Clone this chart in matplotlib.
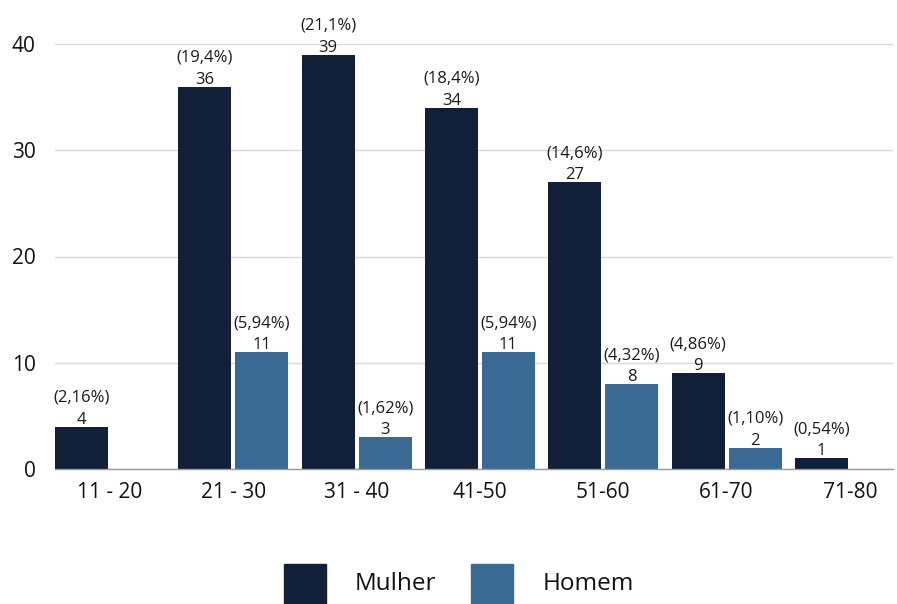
import matplotlib
matplotlib.use("Agg")
import matplotlib.pyplot as plt
from matplotlib.patches import Rectangle
import numpy as np

plt.rcParams['font.family'] = ['Open Sans', 'DejaVu Sans']

categories = ["11 - 20", "21 - 30", "31 - 40", "41-50", "51-60", "61-70", "71-80"]
mulher = [4, 36, 39, 34, 27, 9, 1]
homem = [0, 11, 3, 11, 8, 2, 0]
mulher_pct = ["(2,16%)", "(19,4%)", "(21,1%)", "(18,4%)", "(14,6%)", "(4,86%)", "(0,54%)"]
homem_pct = ["", "(5,94%)", "(1,62%)", "(5,94%)", "(4,32%)", "(1,10%)", ""]
yticks = [0, 10, 20, 30, 40]

c_m = "#121f38"
c_h = "#3a6a93"

W, H = 897, 604
fig = plt.figure(figsize=(W / 100, H / 100), dpi=100)
ax = fig.add_axes([55 / W, (H - 469) / H, 838 / W, (469 - 44) / H])

x = np.arange(len(categories))
bw = 0.43
off = 0.231
bm = ax.bar(x - off, mulher, bw, color=c_m, zorder=3)
bh = ax.bar(x + off, homem, bw, color=c_h, zorder=3)

for bars, vals, pcts in ((bm, mulher, mulher_pct), (bh, homem, homem_pct)):
    for b, v, p in zip(bars, vals, pcts):
        if v == 0:
            continue
        cx = b.get_x() + b.get_width() / 2
        ax.annotate(str(v), (cx, v), xytext=(0, 3), textcoords='offset pixels',
                    ha='center', va='baseline', fontsize=12, color='#1a1a1a',
                    annotation_clip=False, zorder=4)
        ax.annotate(p, (cx, v), xytext=(0, 25), textcoords='offset pixels',
                    ha='center', va='baseline', fontsize=12, color='#1a1a1a',
                    annotation_clip=False, zorder=4)

ax.set_xlim(-0.446, 6.35)
ax.set_ylim(0, 40)
ax.set_yticks(yticks)
ax.set_yticklabels([str(t) for t in yticks], fontsize=15, color='#111111')
ax.set_xticks(x)
ax.set_xticklabels(categories, fontsize=15, color='#111111')
ax.tick_params(axis='y', length=0, pad=14)
ax.tick_params(axis='x', length=0, pad=9)
ax.grid(axis='y', color='#d9d9d9', linewidth=1, zorder=0)
for s in ('top', 'right', 'left'):
    ax.spines[s].set_visible(False)
ax.spines['bottom'].set_color('#9a9a9a')
ax.spines['bottom'].set_linewidth(1)
ax.spines['bottom'].set_zorder(5)

# legend
for lx, col, lab, tx in ((284, c_m, "Mulher", 355), (471, c_h, "Homem", 543)):
    fig.patches.append(Rectangle((lx / W, (H - 606) / H), 42 / W, 42 / H,
                                 transform=fig.transFigure, color=col))
    fig.text(tx / W, (H - 584) / H, lab, fontsize=17.5, va='center', ha='left', color='#111111')

fig.savefig("out.png", dpi=100)
